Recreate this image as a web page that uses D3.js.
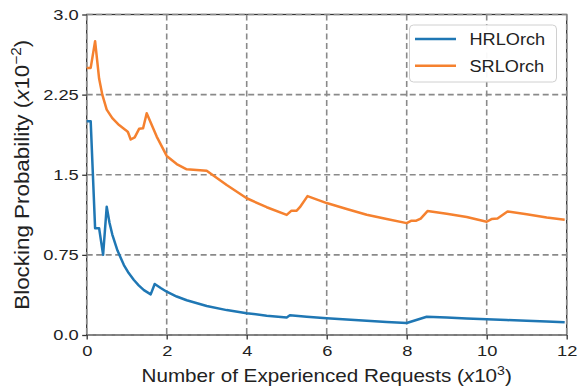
<!DOCTYPE html>
<html><head><meta charset="utf-8">
<script src="https://cdn.jsdelivr.net/npm/d3@7"></script>
<style>
html,body{margin:0;padding:0;background:#fff;}
svg{display:block;font-family:"Liberation Sans",Arial,Helvetica,sans-serif;}
</style></head>
<body>
<svg id="chart" width="588" height="389"></svg>
<script>
const xTicks = [0, 2, 4, 6, 8, 10, 12];
const yTicks = [0, 0.75, 1.5, 2.25, 3.0];
const yTickLabels = ["0.0", "0.75", "1.5", "2.25", "3.0"];
const seriesNames = ["HRLOrch", "SRLOrch"];
const seriesColors = ["#1f77b4", "#f5812f"];

const hrlX = [0, 0.1, 0.21, 0.31, 0.41, 0.5, 0.57, 0.64, 0.77, 0.93, 1.05, 1.18, 1.3, 1.43, 1.6, 1.7, 1.85, 2.0, 2.25, 2.5, 3.0, 3.5, 4.0, 4.5, 5.0, 5.08, 5.5, 6.0, 6.5, 7.0, 7.5, 8.0, 8.5, 9.0, 9.5, 10.0, 10.5, 11.0, 11.5, 11.95];
const hrlY = [2.0, 2.0, 1.0, 1.0, 0.75, 1.2, 1.05, 0.94, 0.79, 0.655, 0.58, 0.515, 0.465, 0.42, 0.38, 0.477, 0.44, 0.405, 0.36, 0.325, 0.272, 0.233, 0.204, 0.181, 0.163, 0.184, 0.17, 0.157, 0.144, 0.133, 0.122, 0.112, 0.171, 0.163, 0.155, 0.147, 0.14, 0.133, 0.127, 0.12];

const srlX = [0, 0.1, 0.21, 0.31, 0.39, 0.5, 0.64, 0.81, 0.97, 1.03, 1.1, 1.2, 1.31, 1.41, 1.5, 1.75, 2.0, 2.25, 2.5, 3.0, 3.5, 4.0, 4.5, 5.0, 5.12, 5.25, 5.33, 5.52, 6.0, 6.5, 7.0, 7.5, 8.0, 8.12, 8.24, 8.35, 8.52, 9.0, 9.5, 10.0, 10.12, 10.27, 10.52, 11.0, 11.5, 11.95];
const srlY = [2.5, 2.5, 2.75, 2.4, 2.25, 2.11, 2.03, 1.965, 1.92, 1.9, 1.83, 1.85, 1.93, 1.935, 2.076, 1.857, 1.676, 1.6, 1.551, 1.538, 1.404, 1.28, 1.196, 1.124, 1.164, 1.164, 1.196, 1.30, 1.235, 1.18, 1.125, 1.085, 1.047, 1.07, 1.07, 1.09, 1.16, 1.135, 1.105, 1.06, 1.085, 1.09, 1.156, 1.13, 1.10, 1.078];

const svg = d3.select("#chart");
const L = 86.7, R = 566.7, T = 14.5, B = 335;
const SX = 1.18;
const x = d3.scaleLinear().domain([0, 12]).range([L, R]);
const y = d3.scaleLinear().domain([0, 3]).range([B, T]);

svg.append("rect").attr("x", L).attr("y", T).attr("width", R - L).attr("height", B - T)
  .attr("fill", "none").attr("stroke", "#333").attr("stroke-width", 1.3);

const grid = svg.append("g");
grid.selectAll("line.v").data(xTicks).join("line").attr("class", "v")
  .attr("x1", d => x(d)).attr("x2", d => x(d)).attr("y1", T).attr("y2", B)
  .attr("stroke", "#8a8a8a").attr("stroke-width", 1.6).attr("stroke-dasharray", "6,3.5");
grid.selectAll("line.h").data(yTicks).join("line").attr("class", "h")
  .attr("y1", d => y(d)).attr("y2", d => y(d)).attr("x1", L).attr("x2", R)
  .attr("stroke", "#8a8a8a").attr("stroke-width", 1.6).attr("stroke-dasharray", "6,3.5");

const xAxis = d3.axisBottom(x).tickValues(xTicks).tickSize(4.5).tickPadding(5).tickFormat(d3.format("d"));
const yAxis = d3.axisLeft(y).tickValues(yTicks).tickSize(4.5).tickPadding(3).tickFormat((d, i) => yTickLabels[i]);
const gx = svg.append("g").attr("transform", `translate(0,${B})`).call(xAxis);
const gy = svg.append("g").attr("transform", `translate(${L},0)`).call(yAxis);
[gx, gy].forEach(g => {
  g.select(".domain").remove();
  g.selectAll(".tick line").attr("stroke", "#333").attr("stroke-width", 1.3);
  g.selectAll(".tick text").attr("fill", "#222").attr("font-size", 15.5)
    .attr("font-family", "Liberation Sans, Arial, sans-serif");
});
gx.selectAll(".tick text").attr("transform", `scale(${SX},1)`);
gy.selectAll(".tick text").attr("x", -8 / SX).attr("transform", `scale(${SX},1)`);

const line = d3.line().x(d => x(d[0])).y(d => y(d[1]));
const series = [d3.zip(hrlX, hrlY), d3.zip(srlX, srlY)];
svg.append("g").selectAll("path").data(series).join("path")
  .attr("d", line).attr("fill", "none")
  .attr("stroke", (d, i) => seriesColors[i]).attr("stroke-width", 2.5)
  .attr("stroke-linejoin", "round").attr("stroke-linecap", "butt");

function label(sel) {
  sel.append("tspan").attr("font-style", "italic").text("x");
  sel.append("tspan").text("10");
}
const xl = svg.append("text").attr("transform", `translate(${(L + R) / 2},382) scale(${SX},1)`)
  .attr("text-anchor", "middle").attr("font-size", 17.5).attr("fill", "#222");
xl.append("tspan").text("Number of Experienced Requests (");
label(xl);
xl.append("tspan").attr("font-size", 12).attr("dy", -7).text("3");
xl.append("tspan").attr("dy", 7).text(")");

const yl = svg.append("text").attr("transform", `translate(29,${(T + B) / 2}) scale(${SX},1) rotate(-90)`)
  .attr("text-anchor", "middle").attr("font-size", 17.5).attr("fill", "#222")
  .attr("textLength", 270).attr("lengthAdjust", "spacingAndGlyphs");
yl.append("tspan").text("Blocking Probability (");
label(yl);
yl.append("tspan").attr("font-size", 12).attr("dy", -7).text("\u22122");
yl.append("tspan").attr("dy", 7).text(")");

const lg = svg.append("g");
lg.append("rect").attr("x", 409.5).attr("y", 25).attr("width", 147).attr("height", 57)
  .attr("rx", 4).attr("fill", "#fff").attr("fill-opacity", 0.95).attr("stroke", "#d0d0d0").attr("stroke-width", 1);
seriesNames.forEach((n, i) => {
  const yy = 39 + i * 26.7;
  lg.append("line").attr("x1", 415).attr("x2", 456).attr("y1", yy).attr("y2", yy)
    .attr("stroke", seriesColors[i]).attr("stroke-width", 2.5);
  lg.append("text").attr("transform", `translate(469.5,${yy + 6}) scale(1.1,1)`)
    .attr("font-size", 16.5).attr("fill", "#222").text(n);
});
</script>
</body></html>
